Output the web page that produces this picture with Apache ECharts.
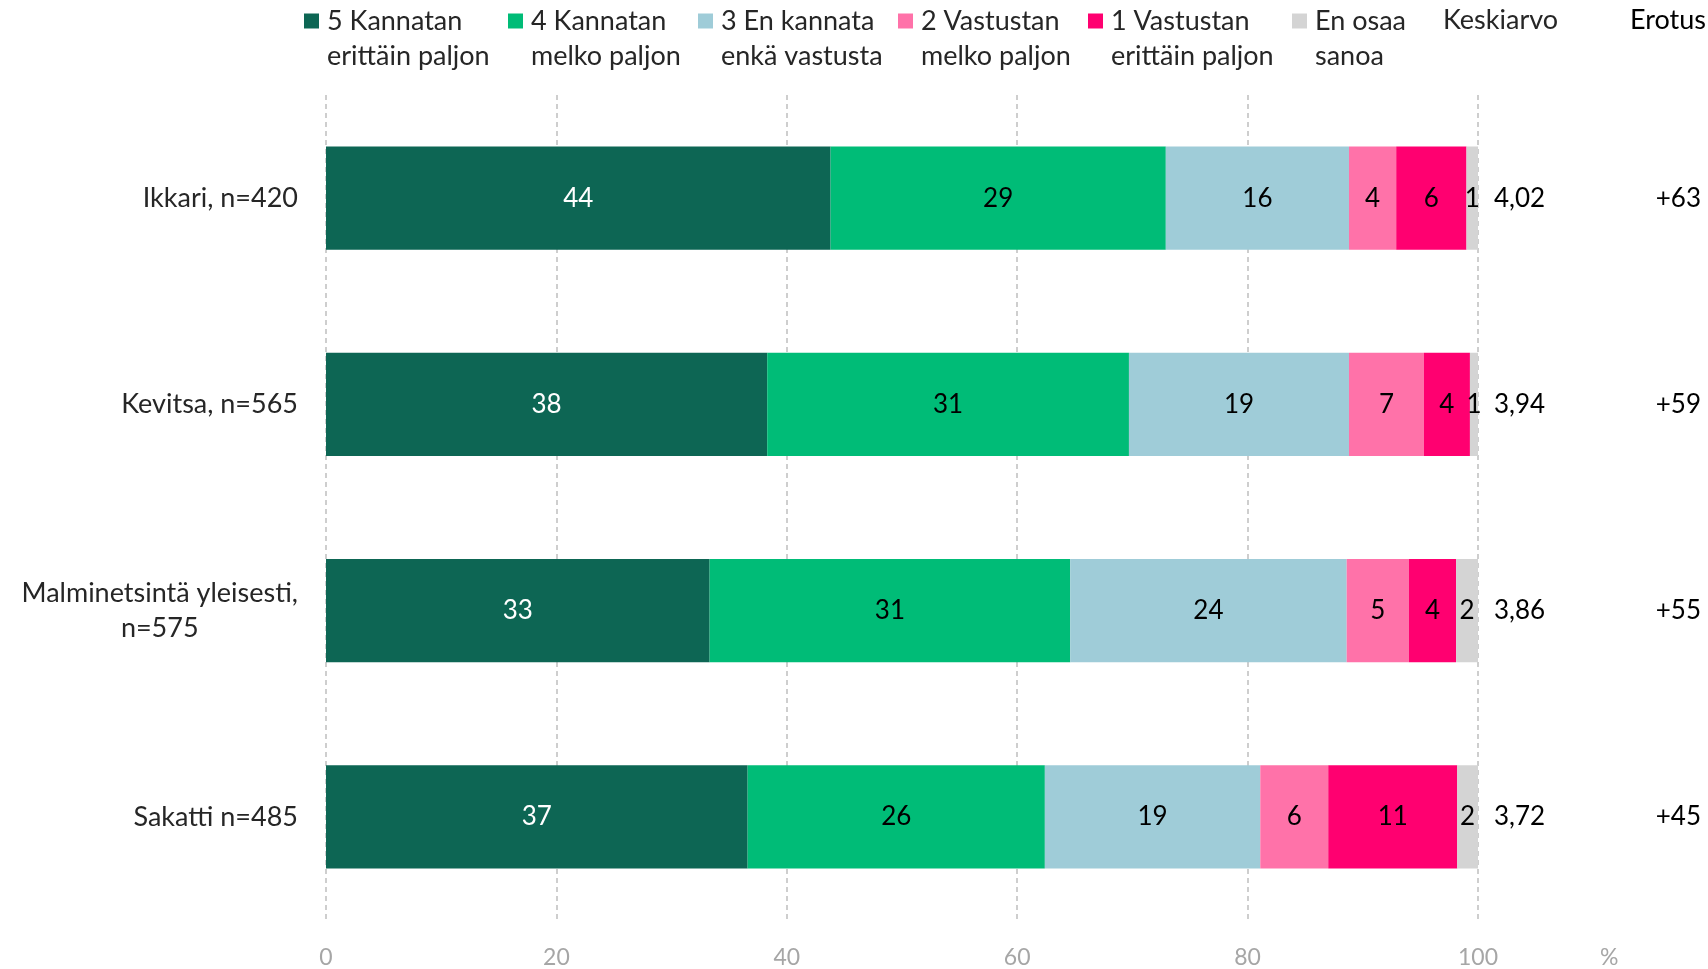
<!DOCTYPE html>
<html>
<head>
<meta charset="utf-8">
<script src="https://cdn.jsdelivr.net/npm/echarts@6/dist/echarts.min.js"></script>
<style>
html,body{margin:0;padding:0;background:#fff;}
#chart{width:1708px;height:969px;}
</style>
</head>
<body>
<div id="chart"></div>
<script>
// ---- data ----
var categories = ['Ikkari, n=420', 'Kevitsa, n=565', 'Malminetsintä yleisesti,\nn=575', 'Sakatti n=485'];
var seriesNames = ['5 Kannatan\nerittäin paljon', '4 Kannatan\nmelko paljon', '3 En kannata\nenkä vastusta', '2 Vastustan\nmelko paljon', '1 Vastustan\nerittäin paljon', 'En osaa\nsanoa'];
var kannatan5 = [43.8, 38.3, 33.3, 36.6];
var kannatan4 = [29.1, 31.4, 31.3, 25.8];
var enKannata3 = [15.9, 19.1, 24.0, 18.7];
var vastustan2 = [4.1, 6.5, 5.4, 5.9];
var vastustan1 = [6.1, 4.0, 4.1, 11.2];
var enOsaa = [1.0, 0.7, 1.9, 1.8];
var keskiarvo = [4.02, 3.94, 3.86, 3.72];
var erotus = [63, 59, 55, 45];
var xTicks = [0, 20, 40, 60, 80, 100];

var seriesData = [kannatan5, kannatan4, enKannata3, vastustan2, vastustan1, enOsaa];
var colors = ['#0D6654', '#00BC77', '#9FCCD8', '#FF72A9', '#FF0070', '#D4D4D4'];
var labelColors = ['#FFFFFF', '#000000', '#000000', '#000000', '#000000', '#000000'];
var legendLeft = [304, 508, 698, 898, 1088, 1292];
var FONT = 'Lato, "Noto Sans", sans-serif';

var chart = echarts.init(document.getElementById('chart'), null, {renderer: 'canvas'});

var series = seriesData.map(function (d, i) {
  return {
    name: seriesNames[i],
    type: 'bar',
    stack: 'total',
    barCategoryGap: '50%',
    data: d,
    itemStyle: {color: colors[i]},
    label: {
      show: true,
      position: 'inside',
      fontFamily: FONT,
      fontSize: 26,
      color: labelColors[i],
      formatter: function (p) { return Math.round(p.value); }
    },
    emphasis: {disabled: true}
  };
});

var legends = seriesNames.map(function (n, i) {
  return {
    data: [n],
    left: legendLeft[i],
    top: -31.5,
    padding: 0,
    itemWidth: 15,
    itemHeight: 15,
    itemGap: 0,
    icon: 'rect',
    selectedMode: false,
    formatter: function (name) {
      return '\n' + name.split('\n').map(function (s) { return '{t|' + s + '}'; }).join('\n');
    },
    textStyle: {
      fontFamily: FONT, fontSize: 27, lineHeight: 35, color: '#262626',
      rich: {t: {fontFamily: FONT, fontSize: 27, lineHeight: 35, color: '#262626', padding: [0, 0, 0, 3]}}
    }
  };
});

var option = {
  animation: false,
  backgroundColor: '#fff',
  legend: legends,
  grid: {left: 326, right: 230, top: 95, bottom: 48, containLabel: false},
  xAxis: {
    type: 'value',
    min: 0, max: 100, interval: 20,
    axisLine: {show: false},
    axisTick: {show: false},
    splitLine: {show: true, lineStyle: {color: '#BFBFBF', width: 1.5, type: [5, 4]}},
    axisLabel: {
      margin: 26, fontFamily: FONT, fontSize: 23, color: '#A6A6A6',
      formatter: function (v) { return xTicks.indexOf(v) >= 0 ? String(v) : ''; }
    },
    name: '%',
    nameLocation: 'end',
    nameGap: 122,
    nameTextStyle: {fontFamily: FONT, fontSize: 23, color: '#A6A6A6', verticalAlign: 'top', padding: [26, 0, 0, 0]}
  },
  yAxis: [{
    type: 'category',
    data: categories,
    inverse: true,
    axisLine: {show: false},
    axisTick: {show: false},
    axisLabel: {
      margin: 28, fontFamily: FONT, fontSize: 27, color: '#262626', lineHeight: 35,
      formatter: function (v) {
        var parts = v.split('\n');
        if (parts.length === 1) return '{a|' + v + '}';
        return '{a|' + parts[0] + '}\n{b|' + parts[1] + '}';
      },
      rich: {
        a: {fontFamily: FONT, fontSize: 27, color: '#262626', lineHeight: 35},
        b: {fontFamily: FONT, fontSize: 27, color: '#262626', lineHeight: 35, align: 'center'}
      }
    }
  }, {
    type: 'category',
    data: categories,
    inverse: true,
    position: 'right',
    axisLine: {show: false},
    axisTick: {show: false},
    axisLabel: {
      margin: 16,
      formatter: function (v, idx) {
        return '{m|' + keskiarvo[idx].toFixed(2).replace('.', ',') + '}{d|+' + erotus[idx] + '}';
      },
      rich: {
        m: {fontFamily: FONT, fontSize: 26, color: '#000', width: 150, align: 'left'},
        d: {fontFamily: FONT, fontSize: 26, color: '#000', width: 57, align: 'right'}
      }
    }
  }],
  graphic: [
    {type: 'text', left: 1443, top: 7, style: {text: 'Keskiarvo', fontFamily: FONT, fontSize: 27, fill: '#262626'}},
    {type: 'text', left: 1630, top: 7, style: {text: 'Erotus', fontFamily: FONT, fontSize: 27, fill: '#000'}}
  ],
  series: series
};
chart.setOption(option);
</script>
</body>
</html>
